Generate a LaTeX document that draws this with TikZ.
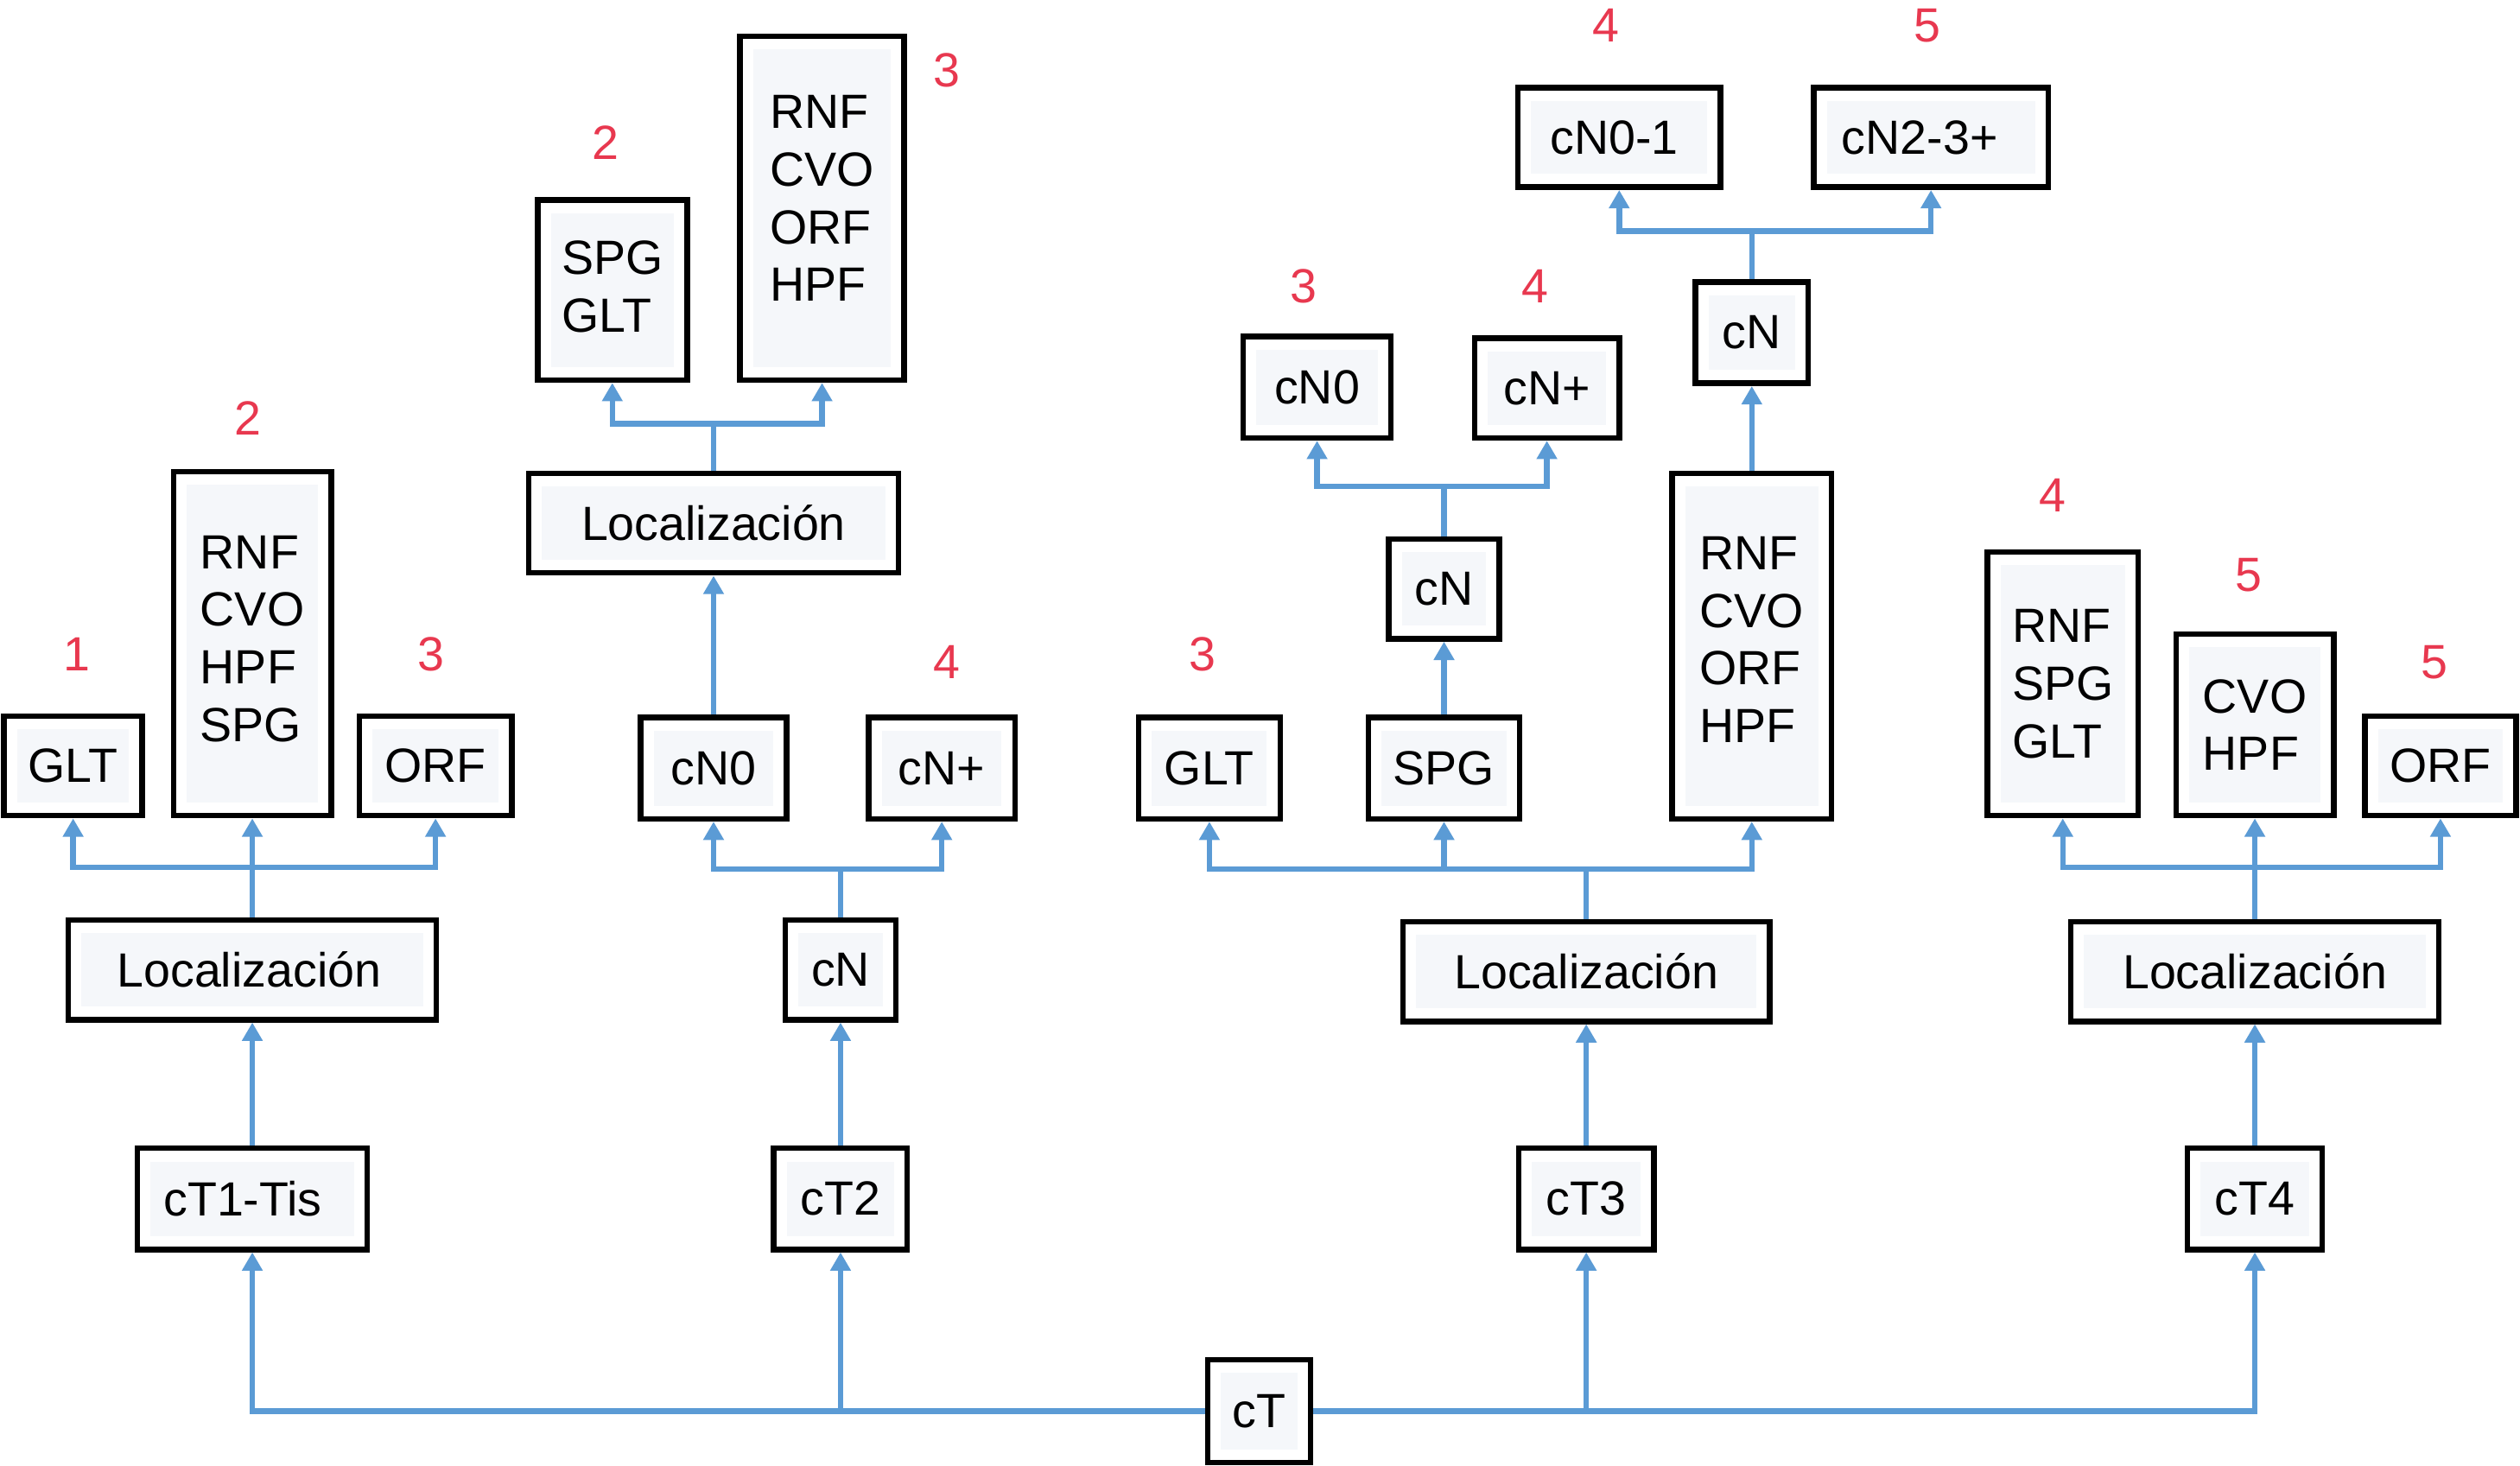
\documentclass[tikz,border=0pt]{standalone}
\usepackage{fontspec}
\setmainfont{Liberation Sans}
\usetikzlibrary{calc,arrows.meta}
\definecolor{blueln}{HTML}{5B9BD5}
\definecolor{redlbl}{HTML}{E8384F}
\definecolor{bgfill}{HTML}{F5F7FA}
\tikzset{
  box/.style={draw=black, line width=2pt, inner sep=0pt},
  txt/.style={inner sep=0pt, align=left, font=\fontsize{17}{20.4}\selectfont},
  lbl/.style={inner sep=0pt, text=redlbl, font=\fontsize{17}{20.4}\selectfont},
  ln/.style={draw=blueln, line width=2pt},
  arr/.style={draw=blueln, line width=2pt, -{Triangle[width=7pt,length=6.5pt]}},
}
% \bx[text shift]{name}{cx}{cy}{w}{h}{text}
\newcommand{\bx}[7][0,0]{%
  \node[box, minimum width={(#5-1)*0.02cm}, minimum height={(#6-1)*0.02cm}] (#2) at (#3,#4) {};
  \fill[bgfill] ($(#2.south west)+(10,-10)$) rectangle ($(#2.north east)+(-10,10)$);
  \node[txt] at ($(#2.center)+(#1)$) {#7};
}
\begin{document}
\begin{tikzpicture}[x=0.02cm, y=-0.02cm]
\fill[white] (0,0) rectangle (1568,912);
\useasboundingbox (0,0) rectangle (1568,912);
% bottom row
\bx{ct}{783.5}{878}{65}{65}{cT}
\bx[-6,0]{ct1}{157}{746}{144}{64}{cT1-Tis}
\bx{ct2}{523}{746}{84}{64}{cT2}
\bx{ct3}{987}{746}{85}{64}{cT3}
\bx{ct4}{1403}{746}{85}{64}{cT4}
% group 1
\bx[-2,0]{loc1}{157}{603.5}{230}{63}{Localización}
\bx{glt1}{45.5}{476.5}{87}{63}{GLT}
\bx[0,-3]{rnf1}{157}{400.5}{99}{215}{RNF\\CVO\\HPF\\SPG}
\bx{orf1}{271}{476.5}{96}{63}{ORF}
\node[lbl] (n11) at (48,407) {1};
\node[lbl] (n12) at (154,260) {2};
\node[lbl] (n13) at (268,407) {3};
% group 2
\bx{cn2}{523}{603.5}{70}{63}{cN}
\bx{cn0a}{444}{478}{92}{64}{cN0}
\bx{cnpa}{586}{478}{92}{64}{cN+}
\bx{loc2}{444}{325.5}{231}{63}{Localización}
\bx[0,-2]{spg2}{381}{180.5}{94}{113}{SPG\\GLT}
\bx[0,-6]{rnf2}{511.5}{129.5}{103}{215}{RNF\\CVO\\ORF\\HPF}
\node[lbl] (n21) at (589,412) {4};
\node[lbl] (n22) at (377,89) {2};
\node[lbl] (n23) at (589,44) {3};
% group 3
\bx{loc3}{987}{604.5}{229}{63}{Localización}
\bx{glt3}{752.5}{478}{89}{64}{GLT}
\bx{spg3}{898.5}{478}{95}{64}{SPG}
\bx[0,-4]{rnf3}{1090}{402}{100}{216}{RNF\\CVO\\ORF\\HPF}
\bx{cn3a}{898.5}{366.5}{70}{63}{cN}
\bx{cn0b}{819.5}{241}{93}{64}{cN0}
\bx{cnpb}{962.5}{241.5}{91}{63}{cN+}
\bx{cn3b}{1090}{207}{71}{64}{cN}
\bx[-3,0]{cn01}{1007.5}{85.5}{127}{63}{cN0-1}
\bx[-7,0]{cn23}{1201.5}{85.5}{147}{63}{cN2-3+}
\node[lbl] (n31) at (748,407) {3};
\node[lbl] (n32) at (811,178) {3};
\node[lbl] (n33) at (955,178) {4};
\node[lbl] (n34) at (999,16) {4};
\node[lbl] (n35) at (1199,16) {5};
% group 4
\bx{loc4}{1403}{604.5}{230}{63}{Localización}
\bx{rsg4}{1283.5}{425.5}{95}{165}{RNF\\SPG\\GLT}
\bx{ch4}{1403}{451}{99}{114}{CVO\\HPF}
\bx{orf4}{1518.5}{476.5}{95}{63}{ORF}
\node[lbl] (n41) at (1277,308) {4};
\node[lbl] (n42) at (1399,358) {5};
\node[lbl] (n43) at (1515,412) {5};
% bus
\draw[arr] (ct.west) -| (ct1.south);
\draw[arr] (ct.east) -| (ct4.south);
\draw[arr] (ct.west -| ct2.south) -- (ct2.south);
\draw[arr] (ct.east -| ct3.south) -- (ct3.south);
% group 1 connectors
\draw[arr] (ct1.north) -- (loc1.south);
\coordinate (j1) at ($(loc1.north)+(0,-31)$);
\draw[ln] (loc1.north) -- (j1);
\draw[arr] (j1) -| (glt1.south);
\draw[arr] (j1) -| (orf1.south);
\draw[arr] (j1) -- (rnf1.south);
% group 2 connectors
\draw[arr] (ct2.north) -- (cn2.south);
\coordinate (j2) at ($(cn2.north)+(0,-30)$);
\draw[ln] (cn2.north) -- (j2);
\draw[arr] (j2) -| (cn0a.south);
\draw[arr] (j2) -| (cnpa.south);
\draw[arr] (cn0a.north) -- (loc2.south);
\coordinate (j2b) at ($(loc2.north)+(0,-29)$);
\draw[ln] (loc2.north) -- (j2b);
\draw[arr] (j2b) -| (spg2.south);
\draw[arr] (j2b) -| (rnf2.south);
% group 3 connectors
\draw[arr] (ct3.north) -- (loc3.south);
\coordinate (j3) at ($(loc3.north)+(0,-31)$);
\draw[ln] (loc3.north) -- (j3);
\draw[arr] (j3) -| (glt3.south);
\draw[arr] (j3) -| (spg3.south);
\draw[arr] (j3) -| (rnf3.south);
\draw[arr] (spg3.north) -- (cn3a.south);
\coordinate (j3a) at ($(cn3a.north)+(0,-31)$);
\draw[ln] (cn3a.north) -- (j3a);
\draw[arr] (j3a) -| (cn0b.south);
\draw[arr] (j3a) -| (cnpb.south);
\draw[arr] (rnf3.north) -- (cn3b.south);
\coordinate (j3b) at ($(cn3b.north)+(0,-30)$);
\draw[ln] (cn3b.north) -- (j3b);
\draw[arr] (j3b) -| (cn01.south);
\draw[arr] (j3b) -| (cn23.south);
% group 4 connectors
\draw[arr] (ct4.north) -- (loc4.south);
\coordinate (j4) at ($(loc4.north)+(0,-32)$);
\draw[ln] (loc4.north) -- (j4);
\draw[arr] (j4) -| (rsg4.south);
\draw[arr] (j4) -| (orf4.south);
\draw[arr] (j4) -- (ch4.south);
\end{tikzpicture}
\end{document}
